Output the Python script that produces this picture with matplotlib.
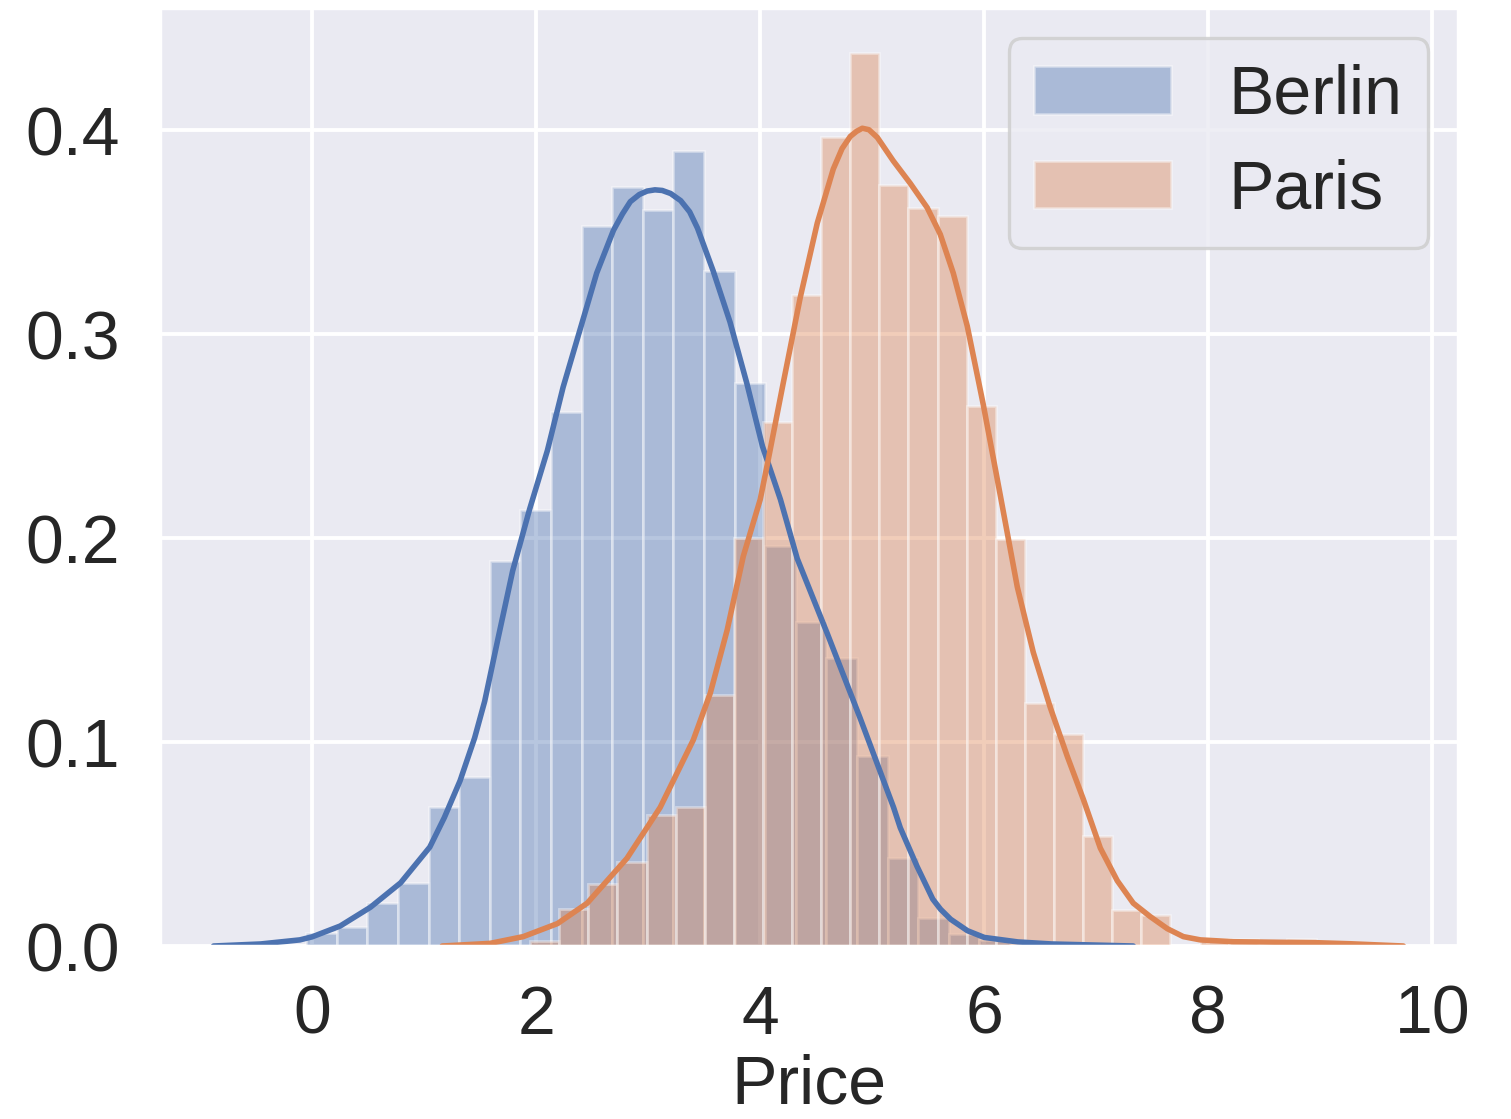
import numpy as np
import matplotlib
matplotlib.use("Agg")
import matplotlib.pyplot as plt
import seaborn as sns

# ---------------- data ----------------
series_names = ["Berlin", "Paris"]

berlin_bin_start = -0.054
berlin_bin_width = 0.2732
berlin_density = [0.0065, 0.0095, 0.021, 0.031, 0.068, 0.083, 0.189, 0.214,
                  0.262, 0.353, 0.372, 0.361, 0.390, 0.331, 0.276, 0.196,
                  0.159, 0.141, 0.093, 0.043, 0.0135, 0.0059, 0.0028]

paris_bin_start = 1.946
paris_bin_width = 0.2598
paris_density = [0.0026, 0.018, 0.0304, 0.0412, 0.064, 0.068, 0.123, 0.200,
                 0.257, 0.319, 0.3965, 0.438, 0.373, 0.362, 0.358, 0.265,
                 0.1996, 0.119, 0.104, 0.054, 0.0176, 0.0150, 0.0, 0.0034,
                 0.0034, 0.0, 0.0034]

berlin_kde_x = [-0.88, -0.46, -0.11, 0.0, 0.25, 0.52, 0.79, 1.05, 1.18, 1.32,
                1.45, 1.54, 1.66, 1.79, 1.94, 2.10, 2.24, 2.39, 2.54, 2.69,
                2.77, 2.84, 2.92, 2.99, 3.06, 3.125, 3.20, 3.29, 3.37, 3.44,
                3.58, 3.73, 3.88, 4.02, 4.18, 4.33, 4.60, 4.89, 5.04, 5.19,
                5.25, 5.40, 5.54, 5.61, 5.70, 5.85, 6.0, 6.30, 6.6, 7.33]
berlin_kde_y = [0.0, 0.001, 0.003, 0.0045, 0.0098, 0.019, 0.031, 0.0485, 0.063,
                0.081, 0.102, 0.12, 0.151, 0.184, 0.214, 0.243, 0.274, 0.302,
                0.330, 0.351, 0.359, 0.365, 0.3685, 0.3702, 0.3708, 0.3705,
                0.369, 0.3655, 0.360, 0.352, 0.331, 0.306, 0.276, 0.245, 0.219,
                0.19, 0.153, 0.112, 0.090, 0.068, 0.058, 0.039, 0.023, 0.018,
                0.0131, 0.0075, 0.0042, 0.002, 0.001, 0.0]

paris_kde_x = [1.161, 1.589, 1.884, 2.19, 2.455, 2.81, 3.107, 3.402, 3.554,
               3.705, 3.848, 4.0, 4.0625, 4.205, 4.357, 4.509, 4.652, 4.73,
               4.804, 4.86, 4.911, 4.97, 5.045, 5.1875, 5.339, 5.491, 5.607,
               5.723, 5.848, 5.991, 6.143, 6.295, 6.4375, 6.589, 6.741, 6.884,
               7.036, 7.1875, 7.33, 7.482, 7.634, 7.777, 7.929, 8.223, 8.67,
               8.973, 9.268, 9.741]
paris_kde_y = [0.0, 0.0013, 0.0046, 0.011, 0.021, 0.043, 0.068, 0.101, 0.124,
               0.155, 0.191, 0.219, 0.236, 0.276, 0.318, 0.3545, 0.381, 0.391,
               0.397, 0.3995, 0.401, 0.4003, 0.3965, 0.385, 0.374, 0.362, 0.349,
               0.330, 0.304, 0.2655, 0.221, 0.176, 0.144, 0.117, 0.093, 0.072,
               0.048, 0.032, 0.021, 0.0144, 0.0085, 0.0046, 0.003, 0.0021,
               0.0018, 0.0016, 0.0011, 0.0]

x_ticks = [0, 2, 4, 6, 8, 10]
y_ticks = [0.0, 0.1, 0.2, 0.3, 0.4]
x_label = "Price"

# ---------------- style ----------------
sns.set_theme(style="darkgrid")
plt.rcParams['font.family'] = ['Liberation Sans', 'DejaVu Sans']

colors = ["#4c72b0", "#dd8452"]
FS = 24.5

fig = plt.figure(figsize=(1511 / 200, 1119 / 200), dpi=200)
ax = fig.add_axes([0.106, 0.1546, 0.859, 0.8383])

for name, start, width, dens, kx, ky, c in [
        (series_names[0], berlin_bin_start, berlin_bin_width, berlin_density,
         berlin_kde_x, berlin_kde_y, colors[0]),
        (series_names[1], paris_bin_start, paris_bin_width, paris_density,
         paris_kde_x, paris_kde_y, colors[1])]:
    lefts = start + width * np.arange(len(dens))
    ax.bar(lefts, dens, width=width, align='edge', color=c, alpha=0.4,
           edgecolor='white', linewidth=1.0, label=name)
    ax.plot(kx, ky, color=c, lw=2.0, solid_capstyle='round',
            solid_joinstyle='round')

ax.set_xlim(-1.357, 10.23)
ax.set_ylim(0, 0.46)
ax.set_xticks(x_ticks)
ax.set_yticks(y_ticks)
ax.set_yticklabels([f"{v:.1f}" for v in y_ticks])
ax.grid(True, color='white', linewidth=1.4)
ax.tick_params(axis='x', labelsize=FS, pad=7.5, colors='.15')
ax.tick_params(axis='y', labelsize=FS, pad=8.6, colors='.15')
ax.set_xlabel(x_label, fontsize=FS, color='.15', labelpad=2)

leg = ax.legend(loc='upper right', fontsize=FS, frameon=True,
                borderaxespad=0.44, handlelength=2.0, handletextpad=0.85,
                labelspacing=0.45, borderpad=0.38)
leg.get_frame().set_edgecolor('#cccccc')
leg.get_frame().set_linewidth(1.2)

fig.savefig("out.png", dpi=200)
